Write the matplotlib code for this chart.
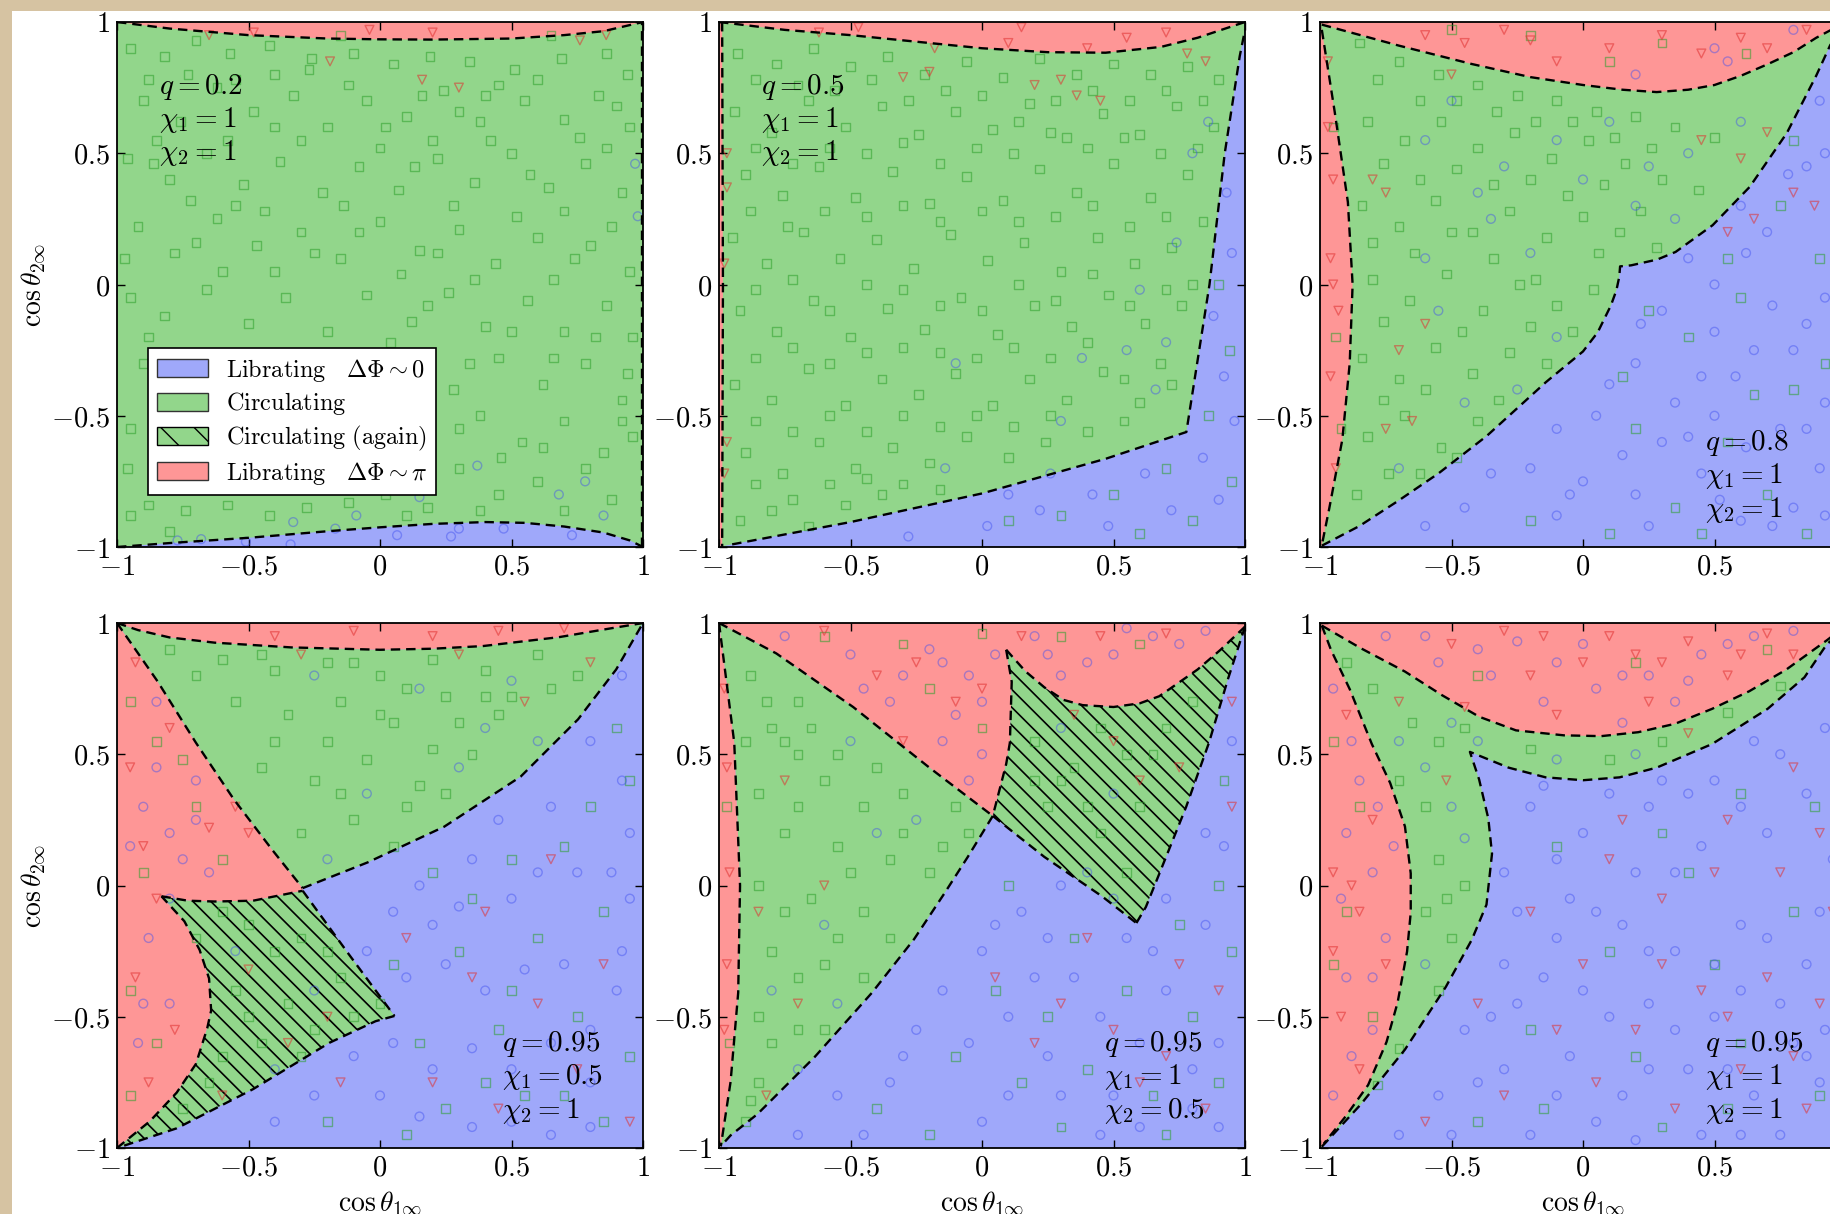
import numpy as np
import matplotlib.pyplot as plt
from matplotlib.patches import Polygon, Patch, Rectangle
from matplotlib.collections import LineCollection

plt.rcParams['mathtext.fontset'] = 'cm'
plt.rcParams['font.family'] = 'serif'
plt.rcParams['hatch.linewidth'] = 1.0

BLUE = '#9fa8fa'
GREEN = '#92d68b'
RED = '#fe9696'

# panel parameters
q_vals = ['0.2', '0.5', '0.8', '0.95', '0.95', '0.95']
chi1_vals = ['1', '1', '1', '0.5', '1', '1']
chi2_vals = ['1', '1', '1', '1', '0.5', '1']
ticks = [-1, -0.5, 0, 0.5, 1]
tick_labels = ['$-1$', '$-0.5$', '$0$', '$0.5$', '$1$']

# ---- region boundaries ----
# panel 1: q=0.2
a_red_top = [(-1, 1), (-0.8, 0.975), (-0.5, 0.95), (-0.2, 0.937), (0, 0.934), (0.2, 0.933),
             (0.5, 0.937), (0.7, 0.95), (0.85, 0.965), (1, 1)]
a_blue_bot = [(-1, -1), (-0.8, -0.985), (-0.5, -0.965), (-0.2, -0.94), (0, -0.925), (0.2, -0.912),
              (0.4, -0.905), (0.55, -0.908), (0.7, -0.922), (0.85, -0.945), (0.95, -0.975), (1, -1)]
a_right = [(0.995, -1), (0.995, 1)]

# panel 2: q=0.5
b_red_top = [(-1, 1), (-0.75, 0.97), (-0.5, 0.95), (-0.25, 0.925), (0, 0.90), (0.25, 0.885),
             (0.47, 0.883), (0.68, 0.905), (0.82, 0.94), (1, 1)]
b_red_left = [(-0.988, 1), (-0.985, 0), (-0.988, -1)]
b_blue = [(-0.95, -0.99), (-0.5, -0.905), (0, -0.796), (0.47, -0.664), (0.777, -0.562),
          (0.865, 0.0), (0.923, 0.5), (0.98, 0.87), (1, 0.97)]

# panel 3: q=0.8
c_red_left = [(-0.993, 0.97), (-0.944, 0.657), (-0.894, 0.314), (-0.876, 0.0), (-0.887, -0.3),
              (-0.915, -0.59), (-0.965, -0.854), (-0.993, -0.993)]
c_red_top = [(-0.993, 0.99), (-0.7, 0.91), (-0.423, 0.84), (-0.2, 0.79), (0, 0.76), (0.15, 0.742),
             (0.28, 0.733), (0.4, 0.742), (0.5, 0.76), (0.6, 0.795), (0.704, 0.84), (0.8, 0.885),
             (0.887, 0.94), (1, 1.0)]
c_blue = [(-0.993, -0.995), (-0.85, -0.92), (-0.704, -0.825), (-0.55, -0.72), (-0.366, -0.577),
          (-0.141, -0.372), (0.0, -0.255), (0.056, -0.182), (0.106, -0.08), (0.127, -0.022),
          (0.138, 0.03), (0.141, 0.069), (0.183, 0.073), (0.282, 0.095), (0.352, 0.124),
          (0.493, 0.226), (0.634, 0.372), (0.775, 0.577), (0.887, 0.796), (0.94, 0.912), (1, 0.99)]

# panel 4: q=0.95, chi1=0.5
d_red_top = [(-1, 1), (-0.92, 0.973), (-0.8, 0.945), (-0.628, 0.925), (-0.337, 0.907), (0, 0.898),
             (0.2, 0.902), (0.39, 0.912), (0.68, 0.946), (0.85, 0.975), (1, 1)]
d_red_green = [(-1, 1), (-0.846, 0.778), (-0.7, 0.544), (-0.555, 0.327), (-0.41, 0.136), (-0.294, -0.01)]
d_green_blue = [(-0.294, -0.01), (-0.047, 0.088), (0.244, 0.224), (0.535, 0.415), (0.753, 0.633),
                (0.898, 0.823), (1, 1)]
d_hatch_top = [(-0.831, -0.041), (-0.73, -0.058), (-0.628, -0.061), (-0.483, -0.058), (-0.294, -0.02)]
d_hatch_right = [(-0.294, -0.02), (-0.12, -0.26), (0.055, -0.497)]
d_hatch_bot = [(0.055, -0.497), (-0.017, -0.517), (-0.192, -0.599), (-0.483, -0.776), (-0.773, -0.925), (-1, -1)]
d_hatch_left = [(-1, -1), (-0.875, -0.898), (-0.773, -0.789), (-0.70, -0.68), (-0.657, -0.544),
                (-0.642, -0.476), (-0.65, -0.354), (-0.686, -0.245), (-0.744, -0.136), (-0.831, -0.041)]

# panel 5: q=0.95, chi2=0.5
e_strip = [(-1, 1), (-0.942, 0.544), (-0.92, 0.0), (-0.927, -0.408), (-0.956, -0.748), (-0.993, -0.993)]
e_red_green = [(-1, 1), (-0.782, 0.884), (-0.49, 0.68), (-0.2, 0.449), (0.041, 0.265)]
e_green_blue = [(0.041, 0.265), (-0.054, 0.109), (-0.141, -0.027), (-0.258, -0.204), (-0.418, -0.408),
                (-0.636, -0.653), (-0.854, -0.871), (-0.956, -0.952), (-0.993, -0.993)]
e_hatch_top = [(0.092, 0.898), (0.165, 0.816), (0.237, 0.755), (0.31, 0.707), (0.383, 0.687), (0.5, 0.68),
               (0.6, 0.694), (0.674, 0.721), (0.82, 0.823), (0.907, 0.898), (1, 0.986)]
e_hatch_left = [(0.092, 0.898), (0.113, 0.776), (0.106, 0.544), (0.092, 0.463), (0.041, 0.265)]
e_hatch_bot = [(0.041, 0.265), (0.237, 0.109), (0.456, -0.041), (0.587, -0.143)]
e_hatch_right = [(0.587, -0.143), (0.623, -0.082), (0.667, 0.027), (0.776, 0.299), (0.863, 0.544),
                 (0.936, 0.789), (1, 0.986)]

# panel 6: q=0.95
f_red_top = [(-0.993, 0.99), (-0.845, 0.904), (-0.677, 0.815), (-0.536, 0.725), (-0.395, 0.643),
             (-0.255, 0.591), (-0.072, 0.572), (0.069, 0.569), (0.21, 0.584), (0.35, 0.616),
             (0.491, 0.673), (0.632, 0.74), (0.772, 0.822), (0.927, 0.934), (1, 0.99)]
f_red_left = [(-0.993, 0.99), (-0.958, 0.897), (-0.887, 0.748), (-0.803, 0.539), (-0.733, 0.39),
              (-0.677, 0.225), (-0.655, 0.046), (-0.655, -0.103), (-0.669, -0.252), (-0.705, -0.446),
              (-0.747, -0.596), (-0.817, -0.76), (-0.902, -0.879), (-0.986, -0.984)]
f_blue = [(-0.993, -0.995), (-0.845, -0.834), (-0.677, -0.625), (-0.522, -0.387), (-0.423, -0.207),
          (-0.367, -0.073), (-0.346, 0.121), (-0.36, 0.255), (-0.395, 0.404), (-0.43, 0.509),
          (-0.283, 0.449), (-0.142, 0.412), (0, 0.401), (0.139, 0.412), (0.28, 0.449), (0.491, 0.539),
          (0.702, 0.673), (0.842, 0.793), (0.927, 0.919), (1, 0.98)]

# ---- simulated binaries (squares: circulating, circles: dPhi~0, triangles: dPhi~pi) ----
a_sq = [(-0.95, 0.90), (-0.82, 0.87), (-0.70, 0.93), (-0.57, 0.88), (-0.42, 0.91), (-0.26, 0.86), (-0.10, 0.88),
        (0.05, 0.84), (0.19, 0.87), (0.34, 0.85), (0.51, 0.82), (0.69, 0.86), (0.86, 0.88), (0.94, 0.80),
        (-0.90, 0.70), (-0.76, 0.62), (-0.62, 0.75), (-0.48, 0.66), (-0.33, 0.72), (-0.20, 0.60), (-0.05, 0.70),
        (0.10, 0.64), (0.24, 0.74), (0.38, 0.62), (0.55, 0.70), (0.70, 0.63), (0.83, 0.72), (0.95, 0.60),
        (-0.96, 0.48), (-0.80, 0.40), (-0.66, 0.50), (-0.52, 0.38), (-0.38, 0.47), (-0.22, 0.35), (-0.08, 0.45),
        (0.07, 0.36), (0.22, 0.48), (0.36, 0.39), (0.50, 0.50), (0.64, 0.37), (0.78, 0.46), (0.92, 0.35),
        (-0.92, 0.22), (-0.78, 0.12), (-0.62, 0.25), (-0.47, 0.15), (-0.30, 0.20), (-0.15, 0.10), (0.00, 0.24),
        (0.15, 0.13), (0.30, 0.21), (0.44, 0.08), (0.60, 0.18), (0.74, 0.10), (0.88, 0.22),
        (-0.95, -0.05), (-0.82, -0.12), (-0.66, -0.02), (-0.50, -0.15), (-0.36, -0.05), (-0.20, -0.18),
        (-0.05, -0.04), (0.12, -0.14), (0.26, -0.03), (0.40, -0.16), (0.56, -0.06), (0.70, -0.18), (0.86, -0.08),
        (0.96, -0.20), (-0.90, -0.30), (0.28, -0.40), (0.45, -0.28), (0.62, -0.38), (0.78, -0.30), (0.92, -0.44),
        (-0.95, -0.55), (0.38, -0.50), (0.54, -0.60), (0.70, -0.52), (0.85, -0.64), (0.96, -0.58),
        (-0.88, -0.84), (-0.74, -0.86), (-0.58, -0.84), (-0.42, -0.88), (-0.28, -0.85), (-0.12, -0.83),
        (0.02, -0.80), (0.18, -0.85), (0.45, -0.80), (0.60, -0.75), (0.88, -0.82), (-0.95, -0.88), (0.30, -0.70),
        (-0.60, 0.05), (0.20, 0.55), (-0.40, 0.80), (0.65, 0.95), (-0.85, 0.55), (0.40, 0.72), (-0.15, 0.95),
        (-0.88, 0.78), (-0.73, 0.80), (-0.55, 0.78), (-0.40, 0.60), (-0.27, 0.82), (-0.12, 0.76), (0.02, 0.60),
        (0.16, 0.72), (0.30, 0.66), (0.45, 0.76), (0.60, 0.78), (0.76, 0.56), (0.90, 0.68), (-0.86, 0.46),
        (-0.72, 0.32), (-0.58, 0.55), (-0.44, 0.28), (-0.30, 0.55), (-0.14, 0.30), (0.00, 0.52), (0.13, 0.45),
        (0.28, 0.30), (0.42, 0.55), (0.57, 0.42), (0.70, 0.28), (0.86, 0.52), (-0.97, 0.10), (-0.70, 0.16),
        (-0.55, 0.30), (-0.40, 0.05), (-0.25, 0.12), (-0.08, 0.20), (0.08, 0.04), (0.22, 0.12), (0.36, 0.02),
        (0.52, 0.26), (0.66, 0.02), (0.80, 0.15), (0.95, 0.05), (-0.88, -0.20), (0.04, -0.22), (0.18, -0.08),
        (0.34, -0.30), (0.50, -0.18), (0.66, -0.28), (0.82, -0.20), (0.94, -0.34), (0.30, -0.55), (0.46, -0.66),
        (0.62, -0.62), (0.78, -0.70), (0.92, -0.52), (0.38, -0.86), (0.70, -0.86), (-0.96, -0.70), (-0.80, -0.94),
        (0.10, -0.88)]
a_ci = [(0.37, -0.69), (0.78, -0.75), (0.68, -0.80), (0.15, -0.81), (-0.33, -0.905), (-0.17, -0.93), (-0.09, -0.88),
        (0.30, -0.93), (0.27, -0.96), (0.065, -0.955), (0.47, -0.93), (0.73, -0.955), (-0.77, -0.975),
        (-0.68, -0.97), (-0.51, -0.98), (-0.34, -0.99), (0.85, -0.88), (0.97, 0.46), (0.98, 0.26)]
a_tr = [(-0.65, 0.95), (-0.48, 0.96), (-0.19, 0.85), (-0.04, 0.97), (0.16, 0.78), (0.30, 0.75), (0.76, 0.93),
        (0.86, 0.95), (0.20, 0.96)]

b_sq = [(-0.93, 0.88), (-0.78, 0.84), (-0.64, 0.90), (-0.50, 0.83), (-0.36, 0.87), (-0.22, 0.80), (-0.06, 0.85),
        (0.08, 0.79), (0.22, 0.86), (0.36, 0.80), (0.50, 0.84), (0.64, 0.80), (0.78, 0.83), (0.90, 0.78),
        (-0.94, 0.66), (-0.80, 0.58), (-0.66, 0.70), (-0.52, 0.60), (-0.38, 0.68), (-0.24, 0.57), (-0.10, 0.66),
        (0.04, 0.59), (0.18, 0.69), (0.32, 0.56), (0.46, 0.65), (0.60, 0.57), (0.74, 0.68), (0.88, 0.60),
        (-0.90, 0.42), (-0.76, 0.34), (-0.62, 0.45), (-0.48, 0.33), (-0.34, 0.43), (-0.20, 0.31), (-0.06, 0.41),
        (0.08, 0.32), (0.22, 0.44), (0.36, 0.35), (0.50, 0.46), (0.64, 0.33), (0.78, 0.42),
        (-0.95, 0.18), (-0.82, 0.08), (-0.68, 0.20), (-0.54, 0.10), (-0.40, 0.17), (-0.26, 0.06), (-0.12, 0.19),
        (0.02, 0.09), (0.16, 0.16), (0.30, 0.05), (0.44, 0.18), (0.58, 0.08), (0.72, 0.14),
        (-0.92, -0.10), (-0.78, -0.18), (-0.64, -0.06), (-0.50, -0.20), (-0.36, -0.09), (-0.22, -0.17),
        (-0.08, -0.05), (0.06, -0.19), (0.20, -0.08), (0.34, -0.16), (0.48, -0.04), (0.62, -0.15), (0.76, -0.08),
        (-0.94, -0.38), (-0.80, -0.44), (-0.66, -0.32), (-0.52, -0.46), (-0.38, -0.36), (-0.24, -0.42),
        (-0.10, -0.34), (0.04, -0.46), (0.18, -0.36), (0.32, -0.44), (0.46, -0.33), (0.60, -0.45), (0.72, -0.38),
        (-0.90, -0.64), (-0.76, -0.72), (-0.62, -0.60), (-0.48, -0.70), (-0.34, -0.62), (-0.20, -0.68),
        (-0.06, -0.58), (0.10, -0.66), (0.24, -0.60), (-0.92, -0.90), (-0.80, -0.86), (-0.66, -0.92),
        (-0.52, -0.84), (-0.38, -0.80), (0.90, 0.0), (0.94, -0.25), (0.86, -0.50), (0.70, -0.70), (0.50, -0.80),
        (0.30, -0.88), (0.10, -0.90), (0.80, -0.90), (0.95, -0.75), (0.60, -0.95),
        (-0.86, 0.78), (-0.70, 0.76), (-0.56, 0.74), (-0.42, 0.78), (-0.28, 0.70), (-0.14, 0.74), (0.00, 0.72),
        (0.14, 0.62), (0.28, 0.70), (0.42, 0.74), (0.56, 0.70), (0.70, 0.74), (0.84, 0.70), (-0.86, 0.52),
        (-0.72, 0.46), (-0.58, 0.52), (-0.44, 0.50), (-0.30, 0.54), (-0.16, 0.46), (-0.02, 0.52), (0.12, 0.50),
        (0.26, 0.58), (0.40, 0.52), (0.54, 0.56), (0.68, 0.50), (0.82, 0.52), (-0.88, 0.28), (-0.74, 0.22),
        (-0.60, 0.28), (-0.44, 0.26), (-0.30, 0.30), (-0.16, 0.24), (0.00, 0.28), (0.14, 0.24), (0.28, 0.26),
        (0.42, 0.30), (0.56, 0.22), (0.70, 0.26), (0.84, 0.24), (-0.86, -0.02), (-0.72, 0.02), (-0.58, -0.10),
        (-0.44, 0.00), (-0.30, -0.02), (-0.16, -0.08), (0.00, -0.10), (0.14, 0.00), (0.28, -0.06), (0.42, 0.04),
        (0.56, -0.08), (0.70, -0.02), (0.80, 0.00), (-0.86, -0.28), (-0.72, -0.24), (-0.58, -0.30),
        (-0.44, -0.26), (-0.30, -0.24), (-0.16, -0.26), (-0.02, -0.28), (0.12, -0.24), (0.26, -0.28),
        (0.40, -0.22), (0.54, -0.36), (0.68, -0.30), (-0.86, -0.52), (-0.72, -0.56), (-0.58, -0.50),
        (-0.44, -0.56), (-0.30, -0.50), (-0.16, -0.54), (-0.02, -0.50), (0.12, -0.54), (0.26, -0.50),
        (0.40, -0.56), (0.54, -0.52), (-0.86, -0.76), (-0.72, -0.82), (-0.58, -0.76), (-0.44, -0.74),
        (-0.30, -0.76), (-0.16, -0.78)]
b_ci = [(0.93, 0.35), (0.95, 0.12), (0.88, -0.12), (0.92, -0.35), (0.96, -0.52), (0.84, -0.66), (0.62, -0.72),
        (0.42, -0.80), (0.22, -0.86), (0.02, -0.92), (-0.28, -0.96), (0.72, -0.86), (0.90, -0.82), (0.48, -0.92),
        (0.60, -0.02), (0.55, -0.25), (0.30, -0.52), (-0.10, -0.30), (0.38, -0.28), (0.80, 0.50), (0.86, 0.62),
        (0.74, 0.16), (-0.14, -0.70), (0.26, -0.72), (0.66, -0.40), (0.70, -0.22), (0.10, -0.80)]
b_tr = [(-0.62, 0.96), (-0.47, 0.98), (-0.18, 0.90), (0.10, 0.92), (0.15, 0.98), (0.40, 0.90), (0.55, 0.94),
        (0.70, 0.96), (0.78, 0.88), (0.85, 0.85), (0.30, 0.78), (0.36, 0.72), (0.45, 0.70), (-0.30, 0.79),
        (-0.20, 0.81), (0.20, 0.76), (-0.97, 0.50), (-0.97, 0.37), (-0.98, 0.08), (-0.97, -0.60), (-0.98, -0.72)]

c_sq = [(-0.85, 0.92), (-0.70, 0.85), (-0.55, 0.80), (-0.40, 0.76), (-0.25, 0.72), (-0.10, 0.70), (0.05, 0.66),
        (0.20, 0.64), (0.35, 0.60), (0.50, 0.56), (-0.82, 0.62), (-0.68, 0.55), (-0.54, 0.62), (-0.40, 0.52),
        (-0.26, 0.58), (-0.12, 0.48), (0.02, 0.55), (0.16, 0.46), (0.30, 0.40), (0.44, 0.36), (-0.84, 0.30),
        (-0.70, 0.22), (-0.56, 0.32), (-0.42, 0.20), (-0.28, 0.28), (-0.14, 0.18), (0.00, 0.26), (0.14, 0.20),
        (0.28, 0.14), (-0.80, 0.02), (-0.66, -0.06), (-0.52, 0.04), (-0.38, -0.10), (-0.24, 0.00), (-0.10, -0.08),
        (0.04, -0.02), (-0.84, -0.28), (-0.70, -0.36), (-0.56, -0.24), (-0.42, -0.34), (-0.28, -0.26),
        (-0.14, -0.30), (-0.82, -0.58), (-0.68, -0.50), (-0.54, -0.62), (-0.40, -0.52), (-0.86, -0.80),
        (-0.74, -0.72), (0.40, -0.20), (0.60, -0.05), (0.75, 0.30), (0.20, -0.55), (0.55, -0.60), (0.80, -0.40),
        (0.35, -0.85), (0.70, -0.80), (0.90, 0.10), (0.10, -0.95), (0.85, -0.95), (-0.20, -0.90), (-0.95, 0.60),
        (-0.94, -0.20), (-0.92, -0.55), (-0.20, 0.95), (0.30, 0.92), (0.10, 0.85), (0.62, 0.88), (-0.50, 0.97),
        (-0.78, 0.78), (-0.62, 0.70), (-0.48, 0.70), (-0.33, 0.66), (-0.18, 0.62), (-0.04, 0.62), (0.12, 0.56),
        (0.26, 0.52), (-0.76, 0.46), (-0.62, 0.40), (-0.48, 0.44), (-0.34, 0.38), (-0.20, 0.40), (-0.06, 0.34),
        (0.08, 0.38), (0.22, 0.28), (-0.80, 0.16), (-0.64, 0.12), (-0.50, 0.20), (-0.34, 0.10), (-0.18, 0.02),
        (0.06, 0.12), (-0.76, -0.14), (-0.60, -0.40), (-0.46, -0.18), (-0.32, -0.44), (-0.20, -0.16),
        (-0.04, -0.18), (-0.76, -0.44), (-0.62, -0.72), (-0.48, -0.66), (0.55, 0.10), (0.80, 0.55),
        (0.15, -0.35), (0.65, -0.42), (0.45, -0.95), (0.92, -0.30), (0.25, -0.10)]
c_ci = [(0.30, -0.10), (0.50, 0.00), (0.70, 0.20), (0.85, 0.45), (0.90, 0.70), (0.20, -0.30), (0.45, -0.35),
        (0.65, -0.25), (0.85, -0.15), (0.05, -0.50), (0.30, -0.60), (0.50, -0.50), (0.75, -0.55), (0.90, -0.70),
        (-0.20, -0.70), (0.00, -0.75), (0.20, -0.80), (0.45, -0.72), (0.60, -0.90), (-0.45, -0.85), (-0.10, -0.88),
        (0.80, -0.85), (0.60, 0.30), (0.35, 0.25), (-0.50, 0.70), (-0.30, 0.45), (0.00, 0.40), (0.20, 0.30),
        (-0.60, 0.10), (-0.20, 0.12), (0.10, 0.62), (-0.45, -0.45), (-0.70, -0.70), (-0.10, -0.20), (0.40, 0.50),
        (0.60, 0.62), (0.50, 0.90), (0.55, 0.85), (0.20, 0.80), (0.80, 0.97), (0.40, 0.10), (0.62, 0.12),
        (0.78, 0.42), (0.92, 0.50), (0.22, -0.15), (0.50, -0.18), (0.72, -0.08), (0.92, -0.05), (0.10, -0.38),
        (0.35, -0.45), (0.58, -0.35), (0.80, -0.25), (0.92, -0.45), (-0.10, -0.55), (0.15, -0.65), (0.40, -0.58),
        (0.62, -0.62), (0.85, -0.55), (-0.35, -0.72), (-0.05, -0.80), (0.25, -0.92), (0.52, -0.82), (0.72, -0.92),
        (0.92, -0.88), (-0.60, -0.92), (-0.60, 0.55), (-0.35, 0.25), (-0.10, 0.55), (0.25, 0.45), (-0.55, -0.10),
        (-0.25, -0.40), (-0.40, 0.35)]
c_tr = [(-0.97, 0.85), (-0.95, 0.40), (-0.96, 0.10), (-0.93, -0.10), (-0.96, -0.35), (-0.94, -0.70), (-0.97, 0.60),
        (-0.95, 0.0), (-0.60, 0.95), (-0.45, 0.92), (-0.30, 0.97), (-0.10, 0.85), (0.10, 0.90), (0.30, 0.95),
        (0.45, 0.88), (0.60, 0.94), (0.70, 0.90), (0.85, 0.97), (-0.20, 0.93), (-0.75, 0.35), (-0.80, 0.40),
        (-0.70, -0.25), (-0.65, -0.52), (-0.75, -0.55), (-0.60, -0.15), (0.45, 0.55), (0.60, 0.48), (0.70, 0.58),
        (-0.50, 0.80), (0.55, 0.20), (0.65, 0.25), (0.80, 0.35), (0.88, 0.30)]

d_sq = [(-0.80, 0.90), (-0.60, 0.86), (-0.40, 0.82), (-0.20, 0.85), (0.00, 0.80), (0.20, 0.86), (0.40, 0.82),
        (0.60, 0.88), (-0.55, 0.70), (-0.35, 0.65), (-0.15, 0.70), (0.05, 0.62), (0.25, 0.72), (0.45, 0.65),
        (0.65, 0.75), (-0.45, 0.45), (-0.25, 0.40), (-0.05, 0.48), (0.15, 0.38), (0.35, 0.50), (-0.30, 0.20),
        (-0.10, 0.25), (0.10, 0.30), (-0.70, -0.20), (-0.50, -0.15), (-0.30, -0.20), (-0.55, -0.40),
        (-0.35, -0.45), (-0.15, -0.35), (-0.60, -0.65), (-0.45, -0.60), (-0.25, -0.55), (0.00, -0.45),
        (-0.75, -0.85), (0.20, 0.05), (0.50, 0.10), (0.80, 0.30), (0.90, 0.60), (0.30, -0.25), (0.60, -0.20),
        (0.85, -0.10), (0.15, -0.60), (0.45, -0.55), (0.75, -0.50), (0.95, -0.65), (0.25, -0.85), (0.55, -0.80),
        (0.85, -0.90), (-0.20, -0.90), (0.10, -0.95), (-0.95, 0.70), (-0.85, 0.55), (-0.70, 0.30), (-0.90, 0.05),
        (-0.95, -0.40), (-0.85, -0.60), (-0.95, -0.80), (-0.60, 0.10), (-0.75, 0.48), (-0.70, 0.80),
        (-0.45, 0.88), (-0.10, 0.85), (0.10, 0.75), (0.30, 0.62), (0.50, 0.72), (0.75, 0.80), (-0.40, 0.55),
        (-0.20, 0.55), (0.00, 0.65), (0.20, 0.52), (0.40, 0.72), (-0.15, 0.35), (0.05, 0.15), (0.25, 0.35),
        (-0.60, -0.10), (-0.40, -0.25), (-0.20, -0.25), (-0.50, -0.50), (-0.30, -0.65), (-0.10, -0.50),
        (-0.65, -0.75), (0.35, -0.05), (0.70, 0.15), (0.95, 0.40), (0.05, -0.30), (0.50, -0.40), (0.70, -0.80),
        (0.40, -0.75)]
d_ci = [(-0.90, 0.30), (-0.80, 0.20), (-0.65, 0.05), (-0.75, 0.10), (-0.88, -0.20), (-0.80, -0.45),
        (-0.92, -0.60), (-0.70, 0.40), (-0.85, 0.45), (-0.25, 0.80), (0.15, 0.75), (0.40, 0.60), (-0.05, 0.35),
        (0.30, 0.45), (-0.20, 0.10), (0.50, 0.78), (-0.55, -0.25), (-0.25, -0.40), (-0.40, -0.70), (0.05, -0.10),
        (0.35, 0.10), (0.65, 0.30), (0.92, 0.40), (0.20, -0.15), (0.50, -0.05), (0.75, 0.05), (0.95, 0.20),
        (0.10, -0.35), (0.40, -0.40), (0.70, -0.30), (0.90, -0.40), (-0.10, -0.65), (0.20, -0.70), (0.50, -0.70),
        (0.80, -0.75), (-0.40, -0.90), (0.00, -0.80), (0.35, -0.92), (0.65, -0.95), (0.92, 0.80), (0.60, 0.55),
        (0.15, 0.00), (0.45, 0.25), (0.80, 0.55), (0.30, -0.08), (0.60, 0.05), (0.88, 0.05), (-0.05, -0.25),
        (0.25, -0.30), (0.55, -0.32), (0.80, -0.55), (0.05, -0.60), (0.35, -0.62), (0.65, -0.60), (0.92, -0.25),
        (-0.25, -0.80), (0.15, -0.88), (0.50, -0.90), (0.80, -0.92), (0.95, -0.05), (-0.95, 0.15), (-0.80, -0.05),
        (-0.70, 0.25), (-0.90, -0.45), (-0.85, 0.70)]
d_tr = [(-0.93, 0.85), (-0.80, 0.60), (-0.65, 0.22), (-0.50, 0.20), (-0.55, 0.30), (-0.95, 0.45), (-0.85, -0.05),
        (-0.93, -0.35), (-0.78, -0.55), (-0.88, -0.75), (-0.90, 0.15), (-0.40, 0.95), (-0.10, 0.97), (0.20, 0.95),
        (0.45, 0.97), (0.70, 0.98), (-0.30, 0.88), (0.30, 0.88), (0.55, 0.70), (0.80, 0.85), (-0.50, -0.32),
        (-0.35, -0.60), (-0.20, -0.50), (-0.60, -0.80), (0.10, -0.20), (0.35, -0.35), (0.60, -0.45), (0.85, -0.30),
        (0.20, -0.75), (0.45, -0.85), (0.75, -0.70), (0.95, -0.90), (-0.15, -0.75), (0.65, 0.10), (0.40, -0.10)]

e_sq = [(-0.88, 0.80), (-0.80, 0.60), (-0.70, 0.50), (-0.85, 0.35), (-0.60, 0.40), (-0.45, 0.30), (-0.30, 0.35),
        (-0.75, 0.20), (-0.55, 0.15), (-0.35, 0.10), (-0.15, 0.15), (-0.85, 0.0), (-0.65, -0.05), (-0.45, -0.10),
        (-0.80, -0.25), (-0.60, -0.30), (-0.45, -0.35), (-0.85, -0.50), (-0.70, -0.55), (-0.85, -0.75),
        (-0.90, -0.90), (-0.20, 0.05), (-0.05, 0.20), (-0.70, 0.70), (-0.90, 0.55), (-0.60, 0.95), (-0.30, 0.92),
        (0.00, 0.96), (0.30, 0.95), (0.60, 0.92), (-0.20, 0.75), (0.00, 0.60), (0.20, 0.55), (0.35, 0.45),
        (0.55, 0.50), (0.70, 0.60), (0.25, 0.30), (0.45, 0.20), (0.60, 0.30), (0.55, 0.05), (0.10, 0.00),
        (0.35, -0.20), (0.75, -0.15), (0.90, 0.00), (0.92, 0.40), (0.05, -0.40), (0.25, -0.50), (0.55, -0.40),
        (0.80, -0.50), (-0.10, -0.65), (0.15, -0.75), (0.40, -0.70), (0.65, -0.80), (0.90, -0.75), (-0.40, -0.85),
        (-0.20, -0.95), (0.30, -0.92), (0.70, -0.95), (0.95, -0.25), (-0.97, 0.30), (-0.96, -0.60),
        (-0.82, 0.70), (-0.75, 0.55), (-0.65, 0.60), (-0.55, 0.50), (-0.40, 0.45), (-0.70, 0.30), (-0.50, 0.05),
        (-0.30, 0.20), (-0.10, 0.30), (-0.75, -0.10), (-0.55, -0.20), (-0.35, -0.20), (-0.70, -0.35),
        (-0.60, -0.55), (-0.80, -0.60), (-0.88, -0.82), (0.30, 0.40), (0.45, 0.60), (0.65, 0.50), (0.80, 0.70),
        (0.40, 0.30), (0.20, 0.40)]
e_ci = [(-0.50, 0.55), (-0.40, 0.20), (-0.60, -0.15), (-0.70, -0.70), (-0.25, 0.25), (-0.80, -0.40),
        (-0.55, -0.45), (-0.50, 0.88), (-0.20, 0.90), (-0.35, 0.70), (-0.10, 0.65), (-0.05, 0.80), (0.20, 0.95),
        (0.40, 0.85), (0.55, 0.98), (0.75, 0.92), (0.00, 0.50), (-0.15, 0.55), (0.30, 0.80), (0.30, 0.60),
        (0.50, 0.35), (0.40, 0.05), (0.15, -0.10), (0.30, 0.00), (0.55, -0.20), (0.70, -0.05), (0.85, 0.20),
        (0.95, 0.55), (0.00, -0.25), (0.20, -0.35), (0.45, -0.50), (0.70, -0.40), (0.90, -0.60), (-0.25, -0.55),
        (-0.05, -0.60), (0.25, -0.65), (0.50, -0.80), (0.80, -0.85), (-0.55, -0.80), (-0.35, -0.75),
        (0.00, -0.90), (0.45, -0.95), (-0.70, -0.95), (-0.75, 0.95), (-0.45, 0.75), (-0.30, 0.80), (-0.15, 0.85),
        (0.05, 0.88), (0.00, 0.70), (0.25, 0.88), (0.50, 0.88), (0.65, 0.95), (0.85, 0.97), (-0.05, 0.40),
        (0.25, -0.20), (0.50, -0.05), (0.65, -0.25), (0.85, -0.15), (0.92, 0.15), (0.10, -0.50), (0.35, -0.35),
        (0.60, -0.60), (0.80, -0.70), (-0.15, -0.40), (-0.30, -0.65), (0.10, -0.80), (0.30, -0.80), (0.60, -0.92),
        (0.90, -0.92), (-0.45, -0.95), (0.05, -0.15)]
e_tr = [(-0.98, 0.75), (-0.97, 0.45), (-0.96, 0.05), (-0.97, -0.30), (-0.98, -0.55), (-0.40, 0.80), (-0.25, 0.85),
        (-0.10, 0.70), (0.00, 0.75), (-0.30, 0.55), (0.15, 0.95), (0.45, 0.95), (0.70, 0.96), (-0.60, 0.97),
        (-0.75, 0.40), (-0.60, 0.00), (-0.85, -0.10), (-0.82, -0.80), (-0.70, -0.45), (0.35, 0.65), (0.60, 0.40),
        (0.75, 0.45), (0.50, 0.55), (0.05, -0.35), (0.30, -0.45), (0.50, -0.55), (0.75, -0.30), (0.90, -0.40),
        (0.20, -0.60), (0.60, -0.75), (0.85, -0.85), (0.95, 0.30), (0.95, 0.70), (0.40, -0.20), (0.70, -0.65)]

f_sq = [(-0.90, 0.85), (-0.80, 0.75), (-0.65, 0.62), (-0.55, 0.55), (-0.45, 0.60), (-0.70, 0.40), (-0.60, 0.30),
        (-0.55, 0.10), (-0.45, 0.00), (-0.50, -0.20), (-0.55, -0.40), (-0.70, -0.62), (-0.78, -0.76),
        (-0.20, 0.52), (0.10, 0.48), (0.30, 0.55), (0.55, 0.66), (0.75, 0.76), (-0.52, -0.05), (-0.60, -0.10),
        (-0.95, 0.55), (-0.85, 0.30), (-0.90, -0.10), (-0.80, -0.50), (-0.95, -0.30), (0.20, 0.85), (-0.40, 0.80),
        (0.70, 0.90), (-0.10, 0.15), (0.30, 0.20), (0.60, 0.35), (0.10, -0.25), (0.50, -0.30), (0.80, -0.10),
        (-0.20, -0.55), (0.20, -0.65), (0.60, -0.60), (0.90, -0.80), (-0.40, -0.90), (0.30, -0.92), (0.55, -0.85),
        (0.88, 0.30), (0.40, 0.05), (-0.15, -0.85)]
f_ci = [(-0.55, 0.85), (-0.35, 0.80), (-0.15, 0.70), (0.05, 0.75), (0.25, 0.80), (0.45, 0.88), (0.65, 0.95),
        (-0.75, 0.95), (0.00, 0.92), (0.35, 0.70), (-0.25, 0.93), (0.15, 0.62), (-0.95, 0.75), (-0.85, 0.40),
        (-0.90, 0.20), (-0.80, 0.05), (-0.75, -0.20), (-0.90, -0.35), (-0.80, -0.55), (-0.95, -0.80),
        (-0.72, 0.15), (-0.60, 0.45), (-0.50, 0.30), (-0.45, 0.18), (-0.40, 0.55), (-0.10, 0.48), (0.20, 0.50),
        (-0.60, -0.30), (-0.70, 0.55), (-0.50, 0.62), (-0.20, 0.30), (0.00, 0.20), (0.25, 0.30), (0.50, 0.40),
        (0.75, 0.50), (0.92, 0.60), (-0.30, 0.05), (-0.05, -0.05), (0.20, 0.05), (0.45, 0.15), (0.70, 0.20),
        (0.95, 0.10), (-0.30, -0.30), (-0.10, -0.20), (0.15, -0.15), (0.35, -0.25), (0.60, -0.15), (0.85, -0.30),
        (-0.45, -0.55), (-0.25, -0.45), (0.00, -0.40), (0.25, -0.45), (0.50, -0.50), (0.75, -0.45), (0.92, -0.55),
        (-0.55, -0.80), (-0.30, -0.70), (-0.05, -0.65), (0.15, -0.80), (0.40, -0.70), (0.65, -0.80), (0.85, -0.65),
        (-0.70, -0.95), (-0.20, -0.95), (0.05, -0.90), (0.45, -0.95), (0.75, -0.95), (0.10, 0.35), (-0.15, 0.38),
        (0.40, 0.35), (-0.10, 0.10), (0.35, 0.05), (0.60, 0.30), (0.85, 0.35), (-0.25, -0.10), (0.05, -0.10),
        (0.25, -0.25), (0.50, -0.30), (0.70, -0.20), (0.90, -0.10), (-0.35, -0.50), (-0.15, -0.35), (0.10, -0.50),
        (0.35, -0.55), (0.60, -0.40), (0.80, -0.60), (-0.40, -0.75), (-0.10, -0.80), (0.25, -0.70), (0.55, -0.70),
        (0.90, -0.75), (-0.50, -0.95), (0.20, -0.97), (0.60, -0.95), (0.30, 0.40), (0.65, 0.55), (-0.40, 0.90),
        (-0.10, 0.85), (0.15, 0.80), (0.40, 0.78), (0.55, 0.92), (0.80, 0.97), (-0.60, 0.95), (-0.88, 0.55),
        (-0.78, 0.30), (-0.92, -0.05), (-0.80, -0.35), (-0.88, -0.65)]
f_tr = [(-0.50, 0.92), (-0.30, 0.97), (-0.20, 0.80), (0.00, 0.85), (0.10, 0.95), (0.25, 0.70), (0.40, 0.93),
        (0.55, 0.80), (0.70, 0.96), (0.80, 0.88), (-0.10, 0.65), (0.30, 0.85), (-0.90, 0.65), (-0.80, 0.25),
        (-0.95, 0.05), (-0.85, -0.10), (-0.75, -0.30), (-0.92, -0.50), (-0.85, -0.70), (-0.95, -0.25),
        (-0.88, 0.00), (-0.70, 0.70), (-0.45, 0.68), (-0.52, 0.40), (0.40, 0.58), (-0.20, -0.10), (0.10, 0.10),
        (0.30, -0.05), (0.55, 0.25), (0.80, 0.45), (0.90, 0.20), (-0.40, -0.45), (0.00, -0.30), (0.20, -0.55),
        (0.45, -0.40), (0.70, -0.35), (0.90, -0.45), (-0.30, -0.80), (0.05, -0.75), (0.35, -0.85), (0.60, -0.70),
        (0.85, -0.85), (-0.60, -0.90), (0.15, 0.25), (-0.15, 0.95), (0.20, 0.88), (0.60, 0.88), (0.50, 0.05),
        (0.75, 0.05), (-0.10, -0.55), (0.30, -0.30), (0.55, -0.50), (0.80, -0.65), (0.95, -0.10)]


def rev(pts):
    return pts[::-1]


# polygons: (vertices, colour, hatched?) drawn in order over the axes background colour
panels = [
    dict(bg=GREEN,
         polys=[(a_red_top, RED, False), (a_blue_bot, BLUE, False)],
         lines=[a_red_top, a_blue_bot, a_right],
         pts=(a_sq, a_ci, a_tr), text='tl'),
    dict(bg=GREEN,
         polys=[(b_red_top, RED, False), ([(-1, 1)] + b_red_left + [(-1, -1)], RED, False),
                ([(-1, -1)] + b_blue + [(1, -1)], BLUE, False)],
         lines=[b_red_top, b_red_left, b_blue],
         pts=(b_sq, b_ci, b_tr), text='tl'),
    dict(bg=GREEN,
         polys=[([(-1, 1)] + c_red_left + [(-1, -1)], RED, False), ([(-1, 1)] + c_red_top + [(1, 1)], RED, False),
                ([(-1, -1)] + c_blue + [(1, -1)], BLUE, False)],
         lines=[c_red_left, c_red_top, c_blue],
         pts=(c_sq, c_ci, c_tr), text='br'),
    dict(bg=BLUE,
         polys=[(d_red_green + rev(d_hatch_top) + rev(d_hatch_left), RED, False),
                (d_red_top + rev(d_green_blue) + rev(d_red_green), GREEN, False),
                (d_red_top, RED, False),
                (d_hatch_top + d_hatch_right + d_hatch_bot + d_hatch_left, GREEN, True)],
         lines=[d_red_top, d_red_green, d_green_blue, d_hatch_top, d_hatch_right, d_hatch_bot, d_hatch_left],
         pts=(d_sq, d_ci, d_tr), text='br'),
    dict(bg=BLUE,
         polys=[([(-1, 1), (1, 1)] + rev(e_hatch_top) + e_hatch_left + rev(e_red_green), RED, False),
                (e_red_green + e_green_blue + rev(e_strip), GREEN, False),
                (e_strip + [(-1, -1)], RED, False),
                (e_hatch_top + rev(e_hatch_right) + rev(e_hatch_bot) + rev(e_hatch_left), GREEN, True)],
         lines=[e_strip, e_red_green, e_green_blue, e_hatch_top, e_hatch_left, e_hatch_bot, e_hatch_right],
         pts=(e_sq, e_ci, e_tr), text='br'),
    dict(bg=GREEN,
         polys=[([(-1, 1)] + f_red_top + [(1, 1)], RED, False),
                ([(-1, 1)] + f_red_left + [(-1, -1)], RED, False),
                ([(-1, -1)] + f_blue + [(1, -1)], BLUE, False)],
         lines=[f_red_top, f_red_left, f_blue],
         pts=(f_sq, f_ci, f_tr), text='br'),
]

W, H = 1830, 1214
fig = plt.figure(figsize=(W / 100, H / 100), dpi=100, facecolor='#d6c3a2')
fig.patches.append(Rectangle((12 / W, 0), 1, 1 - 11 / H, transform=fig.transFigure,
                             facecolor='white', edgecolor='none', zorder=-10))

col_x = [117 / W, 719 / W, 1320 / W]
row_y = [(H - 547) / H, (H - 1148) / H]
aw, ah = 526 / W, 525 / H
hatch_step = 0.068  # horizontal spacing of the '\' hatch lines, in data units

for i, p in enumerate(panels):
    r, c = divmod(i, 3)
    ax = fig.add_axes([col_x[c], row_y[r], aw, ah])
    ax.set_facecolor(p['bg'])
    for verts, col, hatched in p['polys']:
        patch = Polygon(verts, closed=True, facecolor=col, edgecolor='none', linewidth=0, zorder=1)
        ax.add_patch(patch)
        if hatched:
            segs = [[(-1.1, b + 1.1), (1.1, b - 1.1)] for b in np.arange(-2.2, 2.2, hatch_step)]
            lc = LineCollection(segs, colors='k', linewidths=1.2, zorder=1.5)
            ax.add_collection(lc)
            lc.set_clip_path(patch)
    sq, ci, tr = p['pts']
    ax.scatter([x for x, y in sq], [y for x, y in sq], s=40, marker='s', facecolors='none',
               edgecolors='#2ca02c', linewidths=1.0, alpha=0.55, zorder=2)
    ax.scatter([x for x, y in ci], [y for x, y in ci], s=40, marker='o', facecolors='none',
               edgecolors='#4050f0', linewidths=1.0, alpha=0.45, zorder=2)
    ax.scatter([x for x, y in tr], [y for x, y in tr], s=40, marker='v', facecolors='none',
               edgecolors='#e03030', linewidths=1.0, alpha=0.55, zorder=2)
    for ln in p['lines']:
        ax.plot([x for x, y in ln], [y for x, y in ln], color='k', lw=1.7,
                linestyle=(0, (4, 2.5)), zorder=3)

    ax.set_xlim(-1, 1)
    ax.set_ylim(-1, 1)
    ax.set_xticks(ticks)
    ax.set_yticks(ticks)
    ax.set_xticklabels(tick_labels, fontsize=20.5)
    ax.set_yticklabels(tick_labels, fontsize=20.5)
    ax.tick_params(direction='in', length=6, width=1, top=True, right=True, pad=5)
    for sp in ax.spines.values():
        sp.set_linewidth(1.3)
        sp.set_zorder(4)

    lines = ['$q = %s$' % q_vals[i], r'$\chi_1 = %s$' % chi1_vals[i], r'$\chi_2 = %s$' % chi2_vals[i]]
    if p['text'] == 'tl':
        xs, ys = 0.08, [0.863, 0.80, 0.738]
    else:
        xs, ys = 0.732, [0.185, 0.121, 0.058]
    for t, yy in zip(lines, ys):
        ax.text(xs, yy, t, transform=ax.transAxes, fontsize=21, va='baseline', ha='left', zorder=5)

    if c == 0:
        ax.set_ylabel(r'$\cos\theta_{2\infty}$', fontsize=20, labelpad=2)
    if r == 1:
        ax.set_xlabel(r'$\cos\theta_{1\infty}$', fontsize=20, labelpad=6)

    if i == 0:
        handles = [Patch(facecolor=BLUE, edgecolor='#333333', label=r'$\mathrm{Librating}\quad\Delta\Phi\sim 0$'),
                   Patch(facecolor=GREEN, edgecolor='#333333', label=r'$\mathrm{Circulating}$'),
                   Patch(facecolor=GREEN, edgecolor='k', hatch='\\', label=r'$\mathrm{Circulating\ (again)}$'),
                   Patch(facecolor=RED, edgecolor='#333333', label=r'$\mathrm{Librating}\quad\Delta\Phi\sim \pi$')]
        leg = ax.legend(handles=handles, loc='lower left', bbox_to_anchor=(0.059, 0.099), fontsize=17.5,
                        frameon=True, fancybox=False, framealpha=1, edgecolor='k', borderpad=0.35,
                        labelspacing=0.27, handlelength=2.1, handleheight=0.75, handletextpad=0.75,
                        borderaxespad=0)
        leg.get_frame().set_linewidth(1.2)
        leg.set_zorder(6)

fig.savefig('out.png', dpi=100, facecolor=fig.get_facecolor())
